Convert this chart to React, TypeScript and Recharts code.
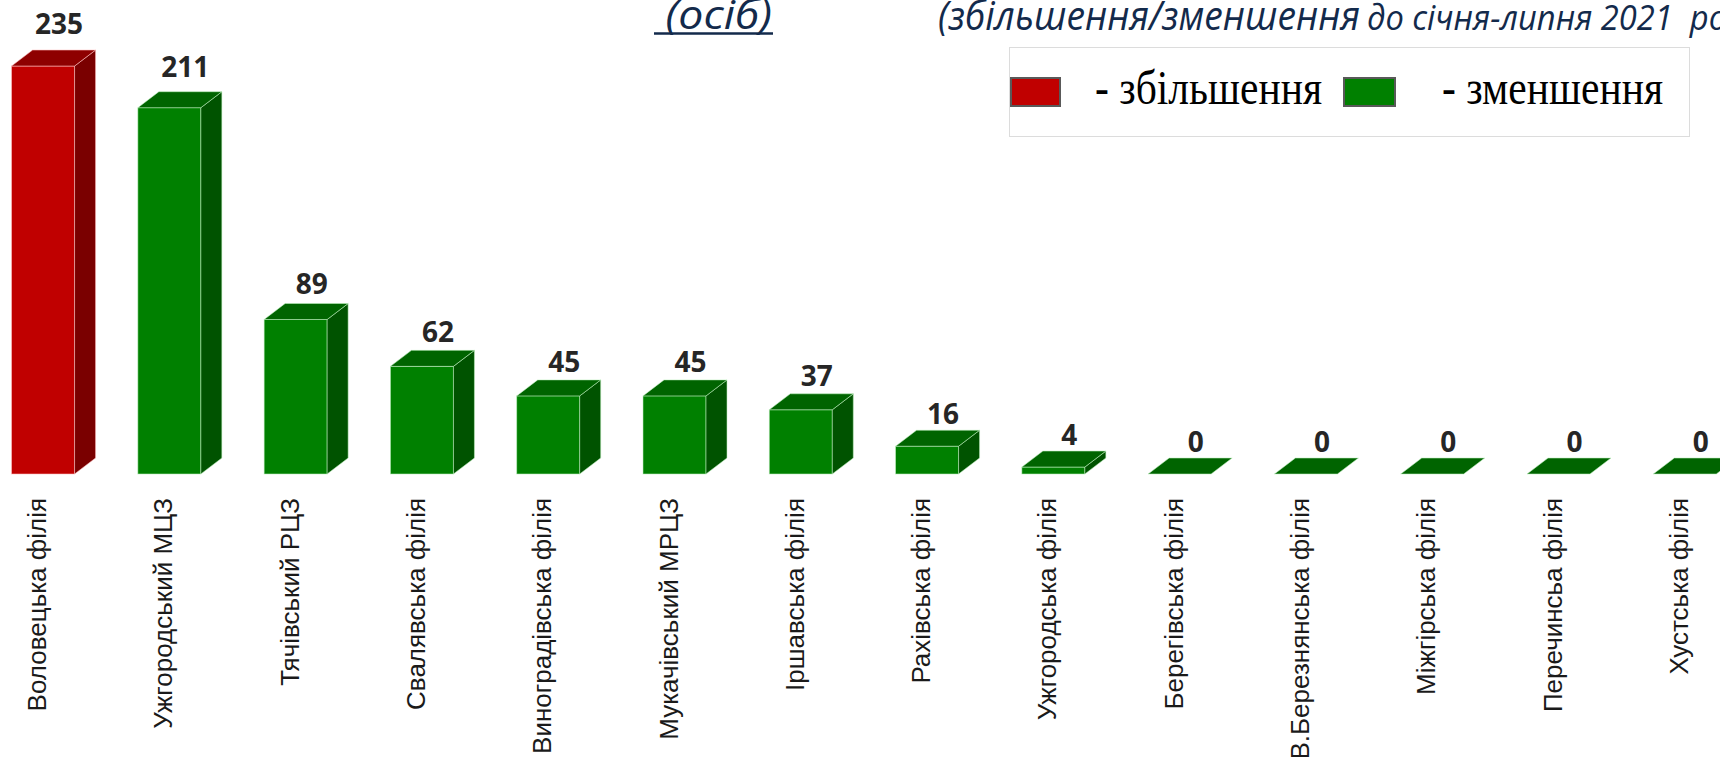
import React from 'react';
import { BarChart, Bar, XAxis, YAxis, LabelList } from 'recharts';

const categories = [
  'Воловецька філія',
  'Ужгородський МЦЗ',
  'Тячівський РЦЗ',
  'Свалявська філія',
  'Виноградівська філія',
  'Мукачівський МРЦЗ',
  'Іршавська філія',
  'Рахівська філія',
  'Ужгородська філія',
  'Берегівська філія',
  'В.Березнянська філія',
  'Міжгірська філія',
  'Перечинсьа філія',
  'Хустська філія',
];

const values = [235, 211, 89, 62, 45, 45, 37, 16, 4, 0, 0, 0, 0, 0];

const directions = ['up', 'down', 'down', 'down', 'down', 'down', 'down', 'down', 'down', 'down', 'down', 'down', 'down', 'down'];

const titleUnit = ' (осіб)';
const titlePart1 = '(збільшення/зменшення';
const titlePart2 = 'до січня-липня 2021  року)';
const legendUp = '- збільшення';
const legendDown = '- зменшення';

const palette: Record<string, { front: string; top: string; side: string; edge: string }> = {
  up: { front: '#C00000', top: '#8E0000', side: '#7A0000', edge: 'rgba(255,190,190,0.7)' },
  down: { front: '#008000', top: '#006400', side: '#005300', edge: 'rgba(190,240,190,0.7)' },
};

const data = categories.map((name, i) => ({ name, value: values[i], dir: directions[i] }));

const DX = 21;
const DY = 16;

const Bar3D = (props: any) => {
  const { x, y, width, height, payload } = props;
  const c = palette[(payload && payload.dir) || 'down'];
  const h = Math.max(0, height || 0);
  const top = `M${x},${y} L${x + DX},${y - DY} L${x + width + DX},${y - DY} L${x + width},${y} Z`;
  const side = `M${x + width},${y} L${x + width + DX},${y - DY} L${x + width + DX},${y + h - DY} L${x + width},${y + h} Z`;
  return (
    <g>
      {h > 0 && <rect x={x} y={y} width={width} height={h} fill={c.front} stroke={c.edge} strokeWidth={0.8} />}
      {h > 0 && <path d={side} fill={c.side} stroke={c.edge} strokeWidth={0.8} />}
      <path d={top} fill={c.top} stroke={c.edge} strokeWidth={0.8} />
    </g>
  );
};

const ValueLabel = (p: any) => {
  const vb = p.viewBox || {};
  const x = p.x ?? vb.x;
  const y = p.y ?? vb.y;
  const width = p.width ?? vb.width;
  const height = Math.max(0, p.height ?? vb.height ?? 0);
  const cx = x + width / 2 + 16;
  const cy = y - DY - (17 + 0.025 * height);
  return (
    <text
      x={cx}
      y={cy}
      textAnchor="middle"
      dominantBaseline="central"
      fontFamily="'Open Sans', 'Noto Sans', sans-serif"
      fontWeight={700}
      fontSize={28}
      fill="#262626"
    >
      {p.value}
    </text>
  );
};

const CategoryTick = (p: any) => {
  const { x, y, payload } = p;
  const ty = y + 24;
  return (
    <text
      x={x}
      y={ty}
      dy={3}
      transform={`rotate(-90 ${x} ${ty})`}
      textAnchor="end"
      fontFamily="'Liberation Sans', Arial, sans-serif"
      fontSize={26}
      fill="#1a1a1a"
    >
      {payload.value}
    </text>
  );
};

export default function App() {
  return (
    <div style={{ position: 'absolute', left: 0, top: 0, width: 1720, height: 757, overflow: 'hidden', background: '#ffffff' }}>
      <div style={{ position: 'absolute', left: -20, top: 0 }}>
        <BarChart
          width={1768}
          height={757}
          data={data}
          margin={{ top: 40, right: 0, left: 0, bottom: 0 }}
          barCategoryGap="25%"
        >
          <XAxis
            dataKey="name"
            interval={0}
            axisLine={false}
            tickLine={false}
            tickSize={0}
            tickMargin={0}
            height={283}
            tick={<CategoryTick />}
          />
          <YAxis hide domain={[0, 250]} />
          <Bar dataKey="value" shape={<Bar3D />} isAnimationActive={false}>
            <LabelList dataKey="value" content={<ValueLabel />} />
          </Bar>
        </BarChart>
      </div>
      <svg width={1720} height={757} style={{ position: 'absolute', left: 0, top: 0, pointerEvents: 'none' }}>
        <g fill="#132a4b" fontFamily="'Open Sans', 'Noto Sans', sans-serif" fontStyle="italic">
          <text x={654} y={29} fontSize={40} textLength={118} lengthAdjust="spacingAndGlyphs" style={{ whiteSpace: 'pre' }}>
            {titleUnit}
          </text>
          <line x1={654} y1={33.5} x2={773} y2={33.5} stroke="#132a4b" strokeWidth={2.6} />
          <text x={938} y={30} fontSize={40} textLength={422} lengthAdjust="spacingAndGlyphs">
            {titlePart1}
          </text>
          <text x={1367} y={30} fontSize={34} textLength={400} lengthAdjust="spacingAndGlyphs" style={{ whiteSpace: 'pre' }}>
            {titlePart2}
          </text>
        </g>
        <rect x={1009.5} y={47.5} width={680} height={89} fill="#ffffff" stroke="#dcdcdc" strokeWidth={1} />
        <rect x={1011} y={78} width={49} height={28} fill="#C00000" stroke="#595959" strokeWidth={2} />
        <text x={1095} y={104} fontFamily="'Liberation Serif', 'Times New Roman', serif" fontSize={48} textLength={227} lengthAdjust="spacingAndGlyphs" fill="#000">
          {legendUp}
        </text>
        <rect x={1344} y={78} width={51} height={28} fill="#008000" stroke="#595959" strokeWidth={2} />
        <text x={1442} y={104} fontFamily="'Liberation Serif', 'Times New Roman', serif" fontSize={48} textLength={221} lengthAdjust="spacingAndGlyphs" fill="#000">
          {legendDown}
        </text>
      </svg>
    </div>
  );
}
